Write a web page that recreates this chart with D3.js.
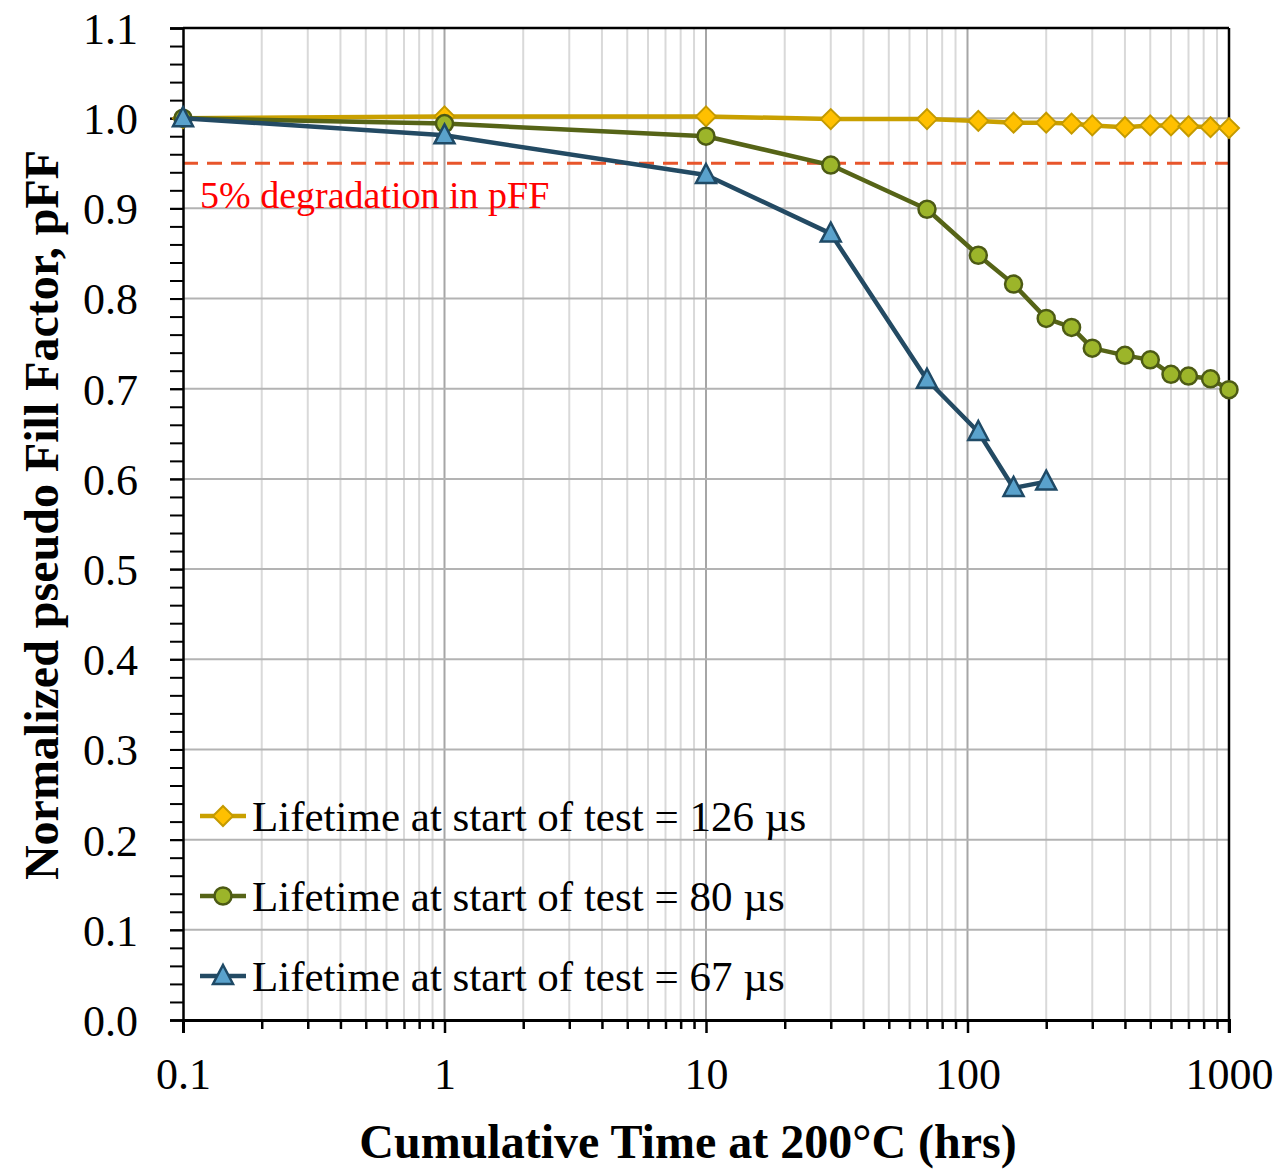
<!DOCTYPE html>
<html>
<head>
<meta charset="utf-8">
<script src="https://cdn.jsdelivr.net/npm/d3@7"></script>
<style>
  html, body { margin: 0; padding: 0; background: #fff; }
  svg { display: block; }
</style>
</head>
<body>
<div id="chart"></div>
<script>
// ---- Data ----
const hours126 = [0.1, 1, 10, 30, 70, 110, 150, 200, 250, 300, 400, 500, 600, 700, 850, 1000];
const pff126   = [1.000, 1.002, 1.002, 0.999, 0.999, 0.997, 0.995, 0.995, 0.994, 0.992, 0.990, 0.992, 0.992, 0.991, 0.990, 0.989];

const hours80  = [0.1, 1, 10, 30, 70, 110, 150, 200, 250, 300, 400, 500, 600, 700, 850, 1000];
const pff80    = [1.000, 0.994, 0.980, 0.948, 0.899, 0.848, 0.816, 0.778, 0.768, 0.745, 0.737, 0.732, 0.716, 0.714, 0.711, 0.699];

const hours67  = [0.1, 1, 10, 30, 70, 110, 150, 200];
const pff67    = [1.000, 0.981, 0.937, 0.872, 0.710, 0.652, 0.590, 0.597];

const seriesNames = ["Lifetime at start of test = 126 µs", "Lifetime at start of test = 80 µs", "Lifetime at start of test = 67 µs"];
const xTickValues = [0.1, 1, 10, 100, 1000];
const xTickLabels = ["0.1", "1", "10", "100", "1000"];
const yTickValues = [0.0, 0.1, 0.2, 0.3, 0.4, 0.5, 0.6, 0.7, 0.8, 0.9, 1.0, 1.1];
const thresholdValue = 0.95;
const thresholdLabel = "5% degradation in pFF";
const xTitle = "Cumulative Time at 200°C (hrs)";
const yTitle = "Normalized pseudo Fill Factor, pFF";

// ---- Layout ----
const W = 1287, H = 1170;
const m = { left: 183, right: 1229, top: 28, bottom: 1020 };
const FONT = "'Liberation Serif', 'Times New Roman', serif";

const svg = d3.select("#chart").append("svg").attr("width", W).attr("height", H);

const x = d3.scaleLog().domain([0.1, 1000]).range([m.left, m.right]);
const y = d3.scaleLinear().domain([0, 1.1]).range([m.bottom, m.top]);

const minorX = [];
for (let e = -1; e < 3; e++) {
  for (let k = 2; k <= 9; k++) minorX.push(k * Math.pow(10, e));
}
const minorY = d3.range(0, 56).map(i => +(i * 0.02).toFixed(2));

// ---- Gridlines ----
const grid = svg.append("g");
grid.selectAll("line.vminor").data(minorX).enter().append("line")
  .attr("x1", d => x(d)).attr("x2", d => x(d))
  .attr("y1", m.top).attr("y2", m.bottom)
  .attr("stroke", "#d9d9d9").attr("stroke-width", 2);
grid.selectAll("line.vmajor").data([1, 10, 100]).enter().append("line")
  .attr("x1", d => x(d)).attr("x2", d => x(d))
  .attr("y1", m.top).attr("y2", m.bottom)
  .attr("stroke", "#a6a6a6").attr("stroke-width", 2);
grid.selectAll("line.h").data(yTickValues.slice(1, -1)).enter().append("line")
  .attr("x1", m.left).attr("x2", m.right)
  .attr("y1", d => y(d)).attr("y2", d => y(d))
  .attr("stroke", "#b3b3b3").attr("stroke-width", 2);

// ---- Threshold ----
svg.append("line")
  .attr("x1", m.left).attr("x2", m.right)
  .attr("y1", y(thresholdValue)).attr("y2", y(thresholdValue))
  .attr("stroke", "#e8552b").attr("stroke-width", 3)
  .attr("stroke-dasharray", "15,9");
svg.append("text")
  .attr("x", 200).attr("y", 208)
  .attr("font-family", FONT).attr("font-size", 38)
  .attr("fill", "#ff0000")
  .text(thresholdLabel);

// ---- Axes ----
const xAxis = d3.axisBottom(x).tickValues(xTickValues).tickSize(13)
  .tickFormat((d, i) => xTickLabels[i]);
const gx = svg.append("g").attr("transform", `translate(0,${m.bottom})`).call(xAxis);
gx.select(".domain").attr("stroke", "#000").attr("stroke-width", 3);
gx.selectAll(".tick line").attr("stroke", "#000").attr("stroke-width", 2.5);
gx.selectAll(".tick text").attr("font-family", FONT).attr("font-size", 44)
  .attr("fill", "#000").attr("dy", "1.05em").attr("y", 23);
const gxMinor = svg.append("g").attr("transform", `translate(0,${m.bottom})`)
  .call(d3.axisBottom(x).tickValues(minorX).tickSize(9).tickFormat(""));
gxMinor.select(".domain").remove();
gxMinor.selectAll(".tick line").attr("stroke", "#000").attr("stroke-width", 2.5);

const yAxis = d3.axisLeft(y).tickValues(yTickValues).tickSize(13).tickFormat(d3.format(".1f"));
const gy = svg.append("g").attr("transform", `translate(${m.left},0)`).call(yAxis);
gy.select(".domain").attr("stroke", "#000").attr("stroke-width", 2.5);
gy.selectAll(".tick line").attr("stroke", "#000").attr("stroke-width", 2);
gy.selectAll(".tick text").attr("font-family", FONT).attr("font-size", 44)
  .attr("fill", "#000").attr("x", -45).attr("dy", "0.35em");
const gyMinor = svg.append("g").attr("transform", `translate(${m.left},0)`)
  .call(d3.axisLeft(y).tickValues(minorY).tickSize(13).tickFormat(""));
gyMinor.select(".domain").remove();
gyMinor.selectAll(".tick line").attr("stroke", "#000").attr("stroke-width", 2);

// frame top and right
svg.append("line").attr("x1", m.left).attr("x2", m.right).attr("y1", m.top).attr("y2", m.top)
  .attr("stroke", "#000").attr("stroke-width", 2.5);
svg.append("line").attr("x1", m.right).attr("x2", m.right).attr("y1", m.top).attr("y2", m.bottom + 13)
  .attr("stroke", "#000").attr("stroke-width", 2.5);

// ---- Series ----
const series = [
  { name: seriesNames[0], xs: hours126, ys: pff126, line: "#c9a000", fill: "#ffc000", stroke: "#c49a00", shape: "diamond" },
  { name: seriesNames[1], xs: hours80,  ys: pff80,  line: "#566417", fill: "#9cb52a", stroke: "#4c5a14", shape: "circle" },
  { name: seriesNames[2], xs: hours67,  ys: pff67,  line: "#234a63", fill: "#5aa2cc", stroke: "#1f4a66", shape: "triangle" }
];

function drawMarker(g, shape, cx, cy, s) {
  if (shape === "diamond") {
    g.append("path")
      .attr("d", `M${cx},${cy - 10}L${cx + 10},${cy}L${cx},${cy + 10}L${cx - 10},${cy}Z`)
      .attr("fill", s.fill).attr("stroke", s.stroke).attr("stroke-width", 2);
  } else if (shape === "circle") {
    g.append("circle").attr("cx", cx).attr("cy", cy).attr("r", 8.5)
      .attr("fill", s.fill).attr("stroke", s.stroke).attr("stroke-width", 2.5);
  } else {
    g.append("path")
      .attr("d", `M${cx},${cy - 11}L${cx + 10},${cy + 8}L${cx - 10},${cy + 8}Z`)
      .attr("fill", s.fill).attr("stroke", s.stroke).attr("stroke-width", 2.5)
      .attr("stroke-linejoin", "miter");
  }
}

const lineGen = d3.line().x(d => x(d[0])).y(d => y(d[1]));
series.forEach(s => {
  const pts = s.xs.map((v, i) => [v, s.ys[i]]);
  const g = svg.append("g");
  g.append("path").datum(pts).attr("d", lineGen)
    .attr("fill", "none").attr("stroke", s.line).attr("stroke-width", 4.5)
    .attr("stroke-linejoin", "round");
  pts.forEach(p => drawMarker(g, s.shape, x(p[0]), y(p[1]), s));
});

// ---- Legend ----
const legendY = [816, 896, 976];
series.forEach((s, i) => {
  const g = svg.append("g");
  const ly = legendY[i];
  g.append("line").attr("x1", 200).attr("x2", 246).attr("y1", ly).attr("y2", ly)
    .attr("stroke", s.line).attr("stroke-width", 4.5);
  drawMarker(g, s.shape, 223, ly, s);
  g.append("text").attr("x", 252).attr("y", ly).attr("dy", "0.35em")
    .attr("font-family", FONT).attr("font-size", 43).attr("fill", "#000")
    .text(s.name);
});

// ---- Titles ----
svg.append("text")
  .attr("x", 688).attr("y", 1158)
  .attr("text-anchor", "middle")
  .attr("font-family", FONT).attr("font-size", 48).attr("font-weight", "bold")
  .text(xTitle);
svg.append("text")
  .attr("transform", `translate(58,515) rotate(-90)`)
  .attr("text-anchor", "middle")
  .attr("font-family", FONT).attr("font-size", 48).attr("font-weight", "bold")
  .text(yTitle);
</script>
</body>
</html>
